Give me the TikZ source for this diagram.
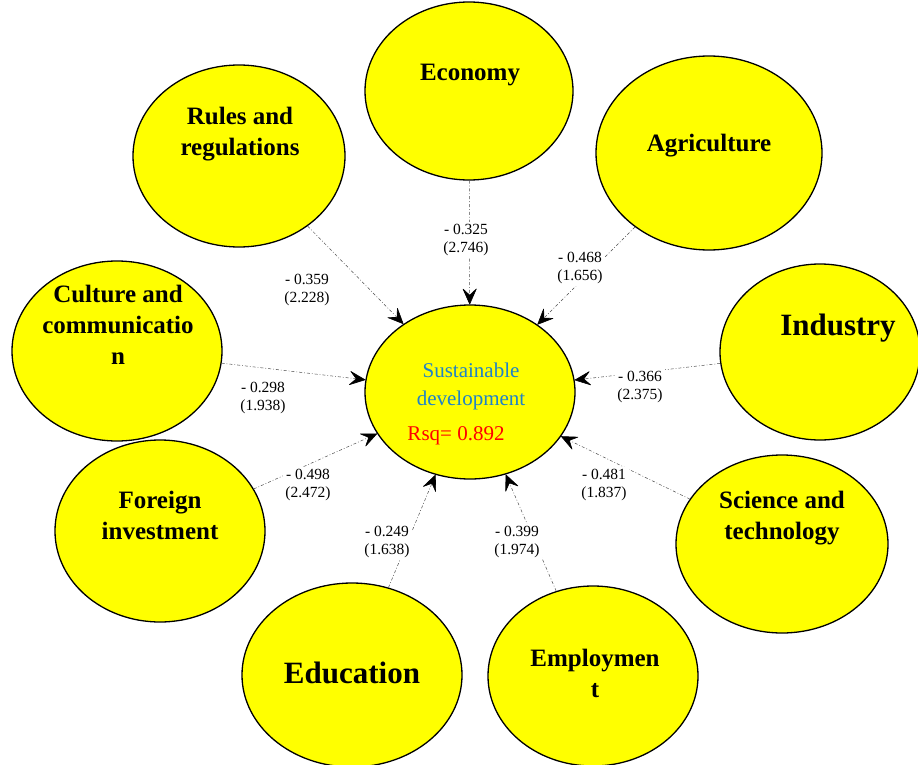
\documentclass[tikz,border=0pt]{standalone}
\usepackage{fontspec}
\setmainfont{Liberation Serif}
\usetikzlibrary{arrows.meta,shapes.geometric}
\definecolor{bubfill}{RGB}{255,255,0}
\definecolor{sdblue}{RGB}{30,130,200}
\definecolor{rsqred}{RGB}{255,0,0}
\begin{document}
\begin{tikzpicture}[x=1pt,y=-1pt,
  bubble/.style={ellipse,draw=black,line width=1.3pt,fill=bubfill,inner sep=0pt},
  bubtext/.style={align=center,font=\bfseries\fontsize{25}{31}\selectfont,inner sep=0pt},
  bigtext/.style={align=center,font=\bfseries\fontsize{31}{36}\selectfont,inner sep=0pt},
  coef/.style={align=center,font=\fontsize{15.5}{18}\selectfont,inner sep=2pt,fill=white},
  conn/.style={draw=black!70,line width=0.5pt,dash pattern=on 3pt off 2pt on 0.8pt off 2pt,
    -{Stealth[length=17pt,width=15pt,inset=7pt,color=black,fill=black,line width=0.6pt,round]}}]
\useasboundingbox (0,0) rectangle (918,765);
% outer bubbles
\node[bubble,minimum width=208pt,minimum height=178pt] (econ) at (469,91) {};
\node[bubble,minimum width=226pt,minimum height=194pt] (agri) at (709,153) {};
\node[bubble,minimum width=200pt,minimum height=176pt] (indu) at (820,352) {};
\node[bubble,minimum width=212pt,minimum height=178pt] (scie) at (782,544) {};
\node[bubble,minimum width=210pt,minimum height=180pt] (empl) at (593,676) {};
\node[bubble,minimum width=220pt,minimum height=184pt] (educ) at (352,675) {};
\node[bubble,minimum width=210pt,minimum height=182pt] (fore) at (160,531) {};
\node[bubble,minimum width=210pt,minimum height=180pt] (cult) at (117,351) {};
\node[bubble,minimum width=212pt,minimum height=182pt] (rule) at (239,156) {};
% centre
\node[bubble,minimum width=210pt,minimum height=174pt] (sd) at (470,392) {};
% bubble texts
\node[bubtext] (tecon) at (470,75) {Economy};
\node[bubtext] (tagri) at (709,146) {Agriculture};
\node[bigtext] (tindu) at (838,328) {Industry};
\node[bubtext] (tscie) at (782,518) {Science and\\technology};
\node[bubtext] (templ) at (595,673) {Employmen\\t};
\node[bigtext] (teduc) at (352,673) {Education};
\node[bubtext] (tfore) at (160,515) {Foreign\\investment};
\node[bubtext] (tcult) at (118,325) {Culture and\\communicatio\\n};
\node[bubtext] (trule) at (240,134) {Rules and\\regulations};
\node[align=center,text=sdblue,font=\fontsize{21}{28}\selectfont,inner sep=0pt] (tsd) at (471,386) {Sustainable\\development};
\node[text=rsqred,font=\fontsize{21}{25}\selectfont,inner sep=0pt] (trsq) at (456,436) {Rsq= 0.892};
% connectors
\draw[conn] (econ) -- (sd);
\draw[conn] (agri) -- (sd);
\draw[conn] (indu) -- (sd);
\draw[conn] (scie) -- (sd);
\draw[conn] (empl) -- (sd);
\draw[conn] (educ) -- (sd);
\draw[conn] (fore) -- (sd);
\draw[conn] (cult) -- (sd);
\draw[conn] (rule) -- (sd);
% coefficients
\node[coef] (cecon) at (466,240) {- 0.325\\(2.746)};
\node[coef] (cagri) at (580,268) {- 0.468\\(1.656)};
\node[coef] (cindu) at (640,387) {- 0.366\\(2.375)};
\node[coef] (cscie) at (604,485) {- 0.481\\(1.837)};
\node[coef] (cempl) at (517,542) {- 0.399\\(1.974)};
\node[coef] (ceduc) at (387,542) {- 0.249\\(1.638)};
\node[coef] (cfore) at (308,485) {- 0.498\\(2.472)};
\node[coef] (ccult) at (263,398) {- 0.298\\(1.938)};
\node[coef] (crule) at (307,290) {- 0.359\\(2.228)};
\end{tikzpicture}
\end{document}
